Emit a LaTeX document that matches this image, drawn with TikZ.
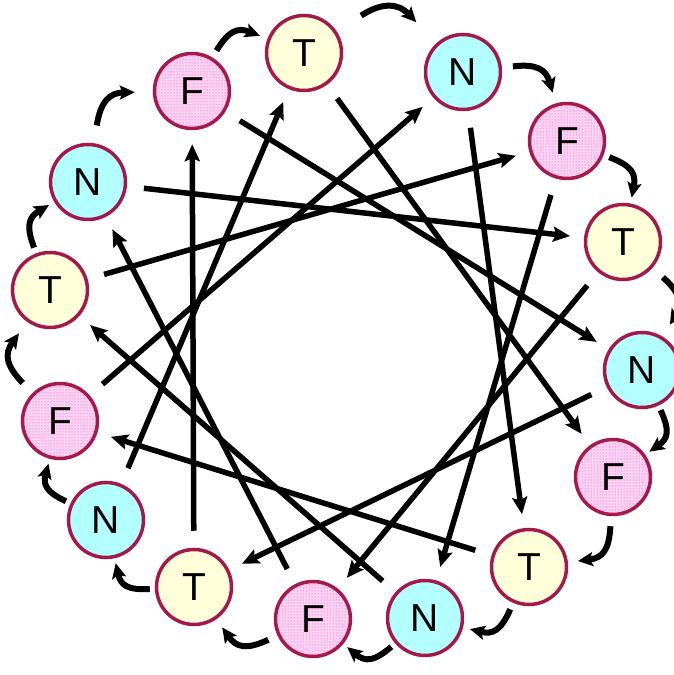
\documentclass[tikz,border=0pt]{standalone}
\usepackage{fontspec}
\setsansfont{Liberation Sans}
\usetikzlibrary{arrows.meta, patterns}
\definecolor{cring}{HTML}{A3194A}
\definecolor{cyellow}{HTML}{FFFFD9}
\definecolor{ccyan}{HTML}{B3FFFF}
\definecolor{cpink}{HTML}{FFD4F7}
\definecolor{cdot}{HTML}{D23C8C}
\tikzset{
  every picture/.style={font=\sffamily, line width=5.5pt},
  res/.style={circle, draw=cring, fill=#1, line width=3.5pt, minimum size=75pt, inner sep=0pt, font=\sffamily\fontsize{39}{42}\selectfont},
  resT/.style={res=cyellow},
  resN/.style={res=ccyan},
  resF/.style={res=cpink, postaction={pattern=dots, pattern color=cdot}},
  chord/.style={-{Stealth[length=17pt, width=15pt, inset=3pt]}, line width=5.5pt, shorten <=17pt, shorten >=14pt},
  ringarrow/.style={-{Stealth[length=15pt, width=14pt, inset=3pt]}, line width=6pt, shorten <=#1, shorten >=#1, bend left=40, looseness=1.4},
  ringarrow/.default=8pt,
}
\begin{document}
\begin{tikzpicture}[x=1pt, y=1pt]
  \useasboundingbox (0,0) rectangle (673,675);
  % ---- residues, clockwise from the top ----
  \node[resT] (t1) at (304,622) {T};
  \node[resN] (n2) at (463,603) {N};
  \node[resF] (f3) at (567,534) {F};
  \node[resT] (t4) at (623,433) {T};
  \node[resN] (n5) at (642,305) {N};
  \node[resF] (f6) at (613,198) {F};
  \node[resT] (t7) at (529,108) {T};
  \node[resN] (n8) at (425,57) {N};
  \node[resF] (f9) at (313,56) {F};
  \node[resT] (t10) at (194,88) {T};
  \node[resN] (n11) at (106,155) {N};
  \node[resF] (f12) at (60,254) {F};
  \node[resT] (t13) at (50,385) {T};
  \node[resN] (n14) at (88,493) {N};
  \node[resF] (f15) at (192,584) {F};
  % ---- links across the wheel ----
  \draw[chord] (t1) -- (f6);
  \draw[chord] (n2) -- (t7);
  \draw[chord] (f3) -- (n8);
  \draw[chord] (t4) -- (f9);
  \draw[chord] (n5) -- (t10);
  \draw[chord] (t7) -- (f12);
  \draw[chord] (n8) -- (t13);
  \draw[chord] (f9) -- (n14);
  \draw[chord] (t10) -- (f15);
  \draw[chord] (n11) -- (t1);
  \draw[chord] (f12) -- (n2);
  \draw[chord] (t13) -- (f3);
  \draw[chord] (n14) -- (t4);
  \draw[chord] (f15) -- (n5);
  % ---- small arrows round the outside ----
  \draw[ringarrow] (f15) to (t1);
  \draw[ringarrow=29pt] (t1) to (n2);
  \draw[ringarrow=11pt] (n2) to (f3);
  \draw[ringarrow=6pt] (f3) to (t4);
  \draw[ringarrow=14pt] (t4) to (n5);
  \draw[ringarrow=5pt] (n5) to (f6);
  \draw[ringarrow=10pt] (f6) to (t7);
  \draw[ringarrow=7pt] (t7) to (n8);
  \draw[ringarrow=5pt] (n8) to (f9);
  \draw[ringarrow=10pt] (f9) to (t10);
  \draw[ringarrow=5pt] (t10) to (n11);
  \draw[ringarrow=5pt] (n11) to (f12);
  \draw[ringarrow=14pt] (f12) to (t13);
  \draw[ringarrow=6pt] (t13) to (n14);
  \draw[ringarrow=18pt] (n14) to (f15);
\end{tikzpicture}
\end{document}
